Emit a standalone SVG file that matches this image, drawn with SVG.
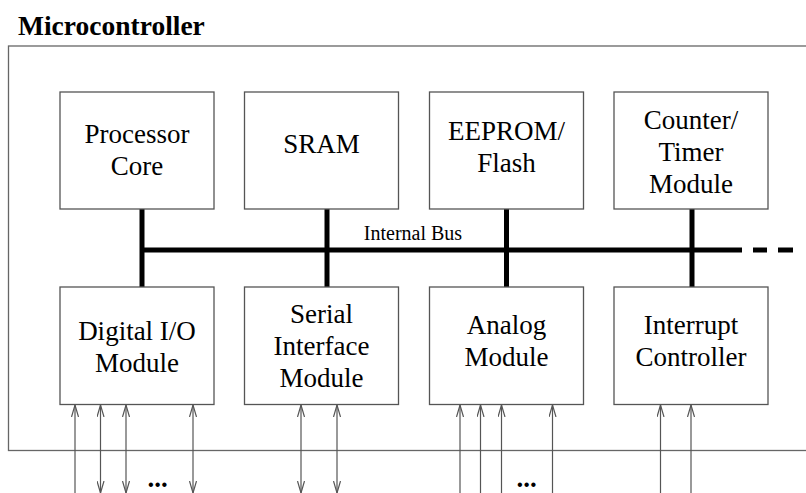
<svg xmlns="http://www.w3.org/2000/svg" width="806" height="493" viewBox="0 0 806 493">
<style>
.box{fill:#fff;stroke:#555;stroke-width:1.3}
.outer{fill:none;stroke:#666;stroke-width:1.3}
.lbl{font-family:"Liberation Serif","Times New Roman",serif;font-size:27px;fill:#000;text-anchor:middle}
.title{font-family:"Liberation Serif","Times New Roman",serif;font-size:27.5px;font-weight:bold;fill:#000}
.bus{stroke:#000;stroke-width:5;fill:none}
.sig{stroke:#555;stroke-width:1.2;fill:none}
.dots{font-family:"Liberation Serif","Times New Roman",serif;font-size:27px;font-weight:bold;fill:#000;text-anchor:middle}
.buslbl{font-family:"Liberation Serif","Times New Roman",serif;font-size:20px;fill:#000;text-anchor:middle}
</style>
<defs>
<marker id="ah" viewBox="0 0 12 8" refX="12" refY="4" markerWidth="12" markerHeight="8" markerUnits="userSpaceOnUse" orient="auto-start-reverse">
<path d="M0,0.5 L12,4 L0,7.5" fill="none" stroke="#555" stroke-width="1.2"/>
</marker>
</defs>
<rect fill="#fff" x="0" y="0" width="806" height="493"/>
<text class="title" x="18" y="35">Microcontroller</text>
<rect class="outer" x="8.5" y="46" width="820" height="404.5"/>
<g id="connectors">
<line class="bus" x1="142" y1="250" x2="742" y2="250"/>
<line class="bus" x1="753" y1="250" x2="767" y2="250"/>
<line class="bus" x1="778" y1="250" x2="793" y2="250"/>
<line class="bus" x1="142" y1="209" x2="142" y2="287"/>
<line class="bus" x1="327" y1="209" x2="327" y2="287"/>
<line class="bus" x1="506.5" y1="209" x2="506.5" y2="287"/>
<line class="bus" x1="692" y1="209" x2="692" y2="287"/>
<text class="buslbl" x="413" y="240">Internal Bus</text>
<line class="sig" x1="75" y1="493" x2="75" y2="405" marker-end="url(#ah)"/>
<line class="sig" x1="100.5" y1="493" x2="100.5" y2="405" marker-start="url(#ah)" marker-end="url(#ah)"/>
<line class="sig" x1="126" y1="493" x2="126" y2="405" marker-start="url(#ah)" marker-end="url(#ah)"/>
<line class="sig" x1="193" y1="493" x2="193" y2="405" marker-start="url(#ah)" marker-end="url(#ah)"/>
<line class="sig" x1="301" y1="493" x2="301" y2="405" marker-start="url(#ah)" marker-end="url(#ah)"/>
<line class="sig" x1="337" y1="493" x2="337" y2="405" marker-start="url(#ah)" marker-end="url(#ah)"/>
<line class="sig" x1="460" y1="493" x2="460" y2="405" marker-end="url(#ah)"/>
<line class="sig" x1="480.5" y1="493" x2="480.5" y2="405" marker-end="url(#ah)"/>
<line class="sig" x1="501.5" y1="493" x2="501.5" y2="405" marker-end="url(#ah)"/>
<line class="sig" x1="552.5" y1="493" x2="552.5" y2="405" marker-end="url(#ah)"/>
<line class="sig" x1="660.5" y1="493" x2="660.5" y2="405" marker-end="url(#ah)"/>
<line class="sig" x1="691" y1="493" x2="691" y2="405" marker-end="url(#ah)"/>
<text class="dots" x="157.5" y="487">...</text>
<text class="dots" x="526.5" y="487">...</text>
</g>
<g id="processor-core">
<rect class="box" x="60" y="92" width="154" height="117"/>
<text class="lbl" x="137" y="143">Processor</text>
<text class="lbl" x="137" y="175">Core</text>
</g>
<g id="sram">
<rect class="box" x="244.5" y="92" width="154" height="117"/>
<text class="lbl" x="321.5" y="153">SRAM</text>
</g>
<g id="eeprom-flash">
<rect class="box" x="429.5" y="92" width="154" height="117"/>
<text class="lbl" x="506.5" y="140">EEPROM/</text>
<text class="lbl" x="506.5" y="172">Flash</text>
</g>
<g id="counter-timer">
<rect class="box" x="614" y="92" width="154" height="117"/>
<text class="lbl" x="691" y="129">Counter/</text>
<text class="lbl" x="691" y="161">Timer</text>
<text class="lbl" x="691" y="193">Module</text>
</g>
<g id="digital-io">
<rect class="box" x="60" y="287" width="154" height="117.5"/>
<text class="lbl" x="137" y="340">Digital I/O</text>
<text class="lbl" x="137" y="372">Module</text>
</g>
<g id="serial-interface">
<rect class="box" x="244.5" y="287" width="154" height="117.5"/>
<text class="lbl" x="321.5" y="323">Serial</text>
<text class="lbl" x="321.5" y="355">Interface</text>
<text class="lbl" x="321.5" y="387">Module</text>
</g>
<g id="analog">
<rect class="box" x="429.5" y="287" width="154" height="117.5"/>
<text class="lbl" x="506.5" y="334">Analog</text>
<text class="lbl" x="506.5" y="366">Module</text>
</g>
<g id="interrupt-controller">
<rect class="box" x="614" y="287" width="154" height="117.5"/>
<text class="lbl" x="691" y="334">Interrupt</text>
<text class="lbl" x="691" y="366">Controller</text>
</g>
</svg>
